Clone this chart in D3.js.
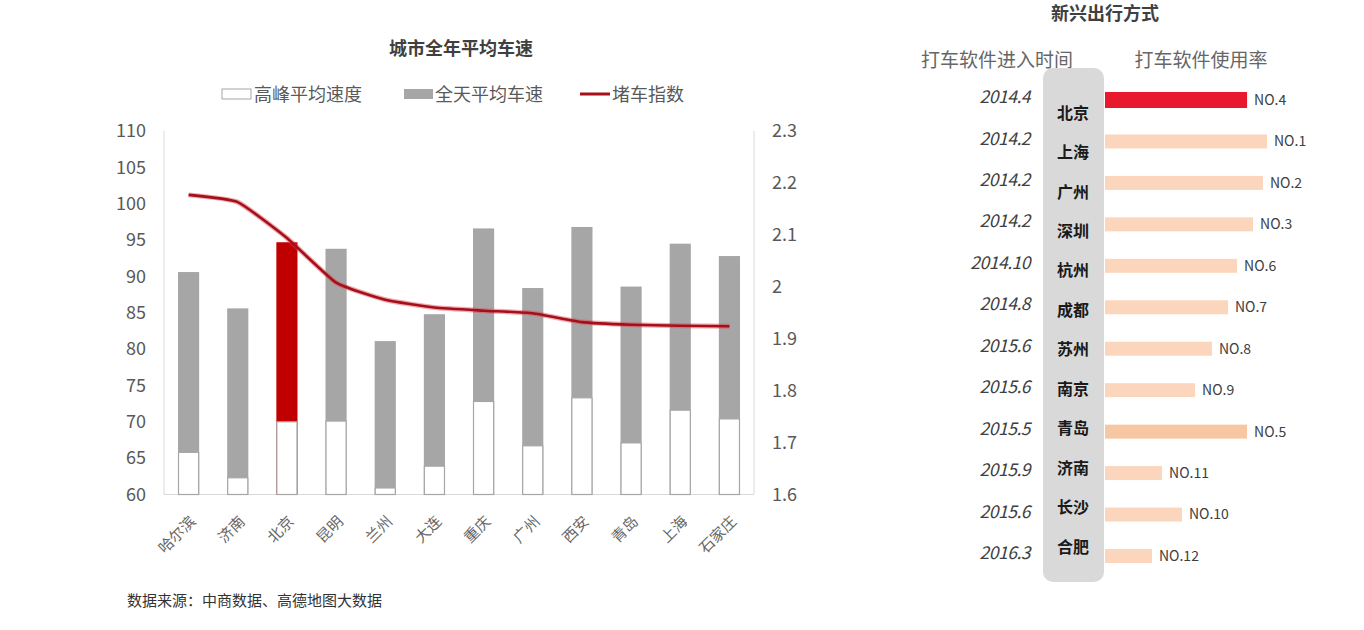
<!DOCTYPE html>
<html>
<head>
<meta charset="utf-8">
<script src="https://cdn.jsdelivr.net/npm/d3@7"></script>
<style>
  body { margin: 0; background: #fff; }
  svg { display: block; }
  text { font-family: "Noto Sans CJK SC", "Noto Sans", sans-serif; }
</style>
</head>
<body>
<div id="chart"></div>
<script>
/* CONSTANTS AND GLOBALS */
const width = 1364, height = 630;

/* DATA */
// left chart: 城市全年平均车速
const cities = ["哈尔滨", "济南", "北京", "昆明", "兰州", "大连", "重庆", "广州", "西安", "青岛", "上海", "石家庄"];
const peakSpeed = [65.8, 62.3, 70.0, 70.1, 60.9, 63.9, 72.8, 66.7, 73.3, 67.1, 71.6, 70.4];
const allDaySpeed = [90.6, 85.6, 94.7, 93.8, 81.1, 84.8, 96.6, 88.4, 96.8, 88.6, 94.5, 92.8];
const jamIndex = [2.177, 2.163, 2.094, 2.008, 1.975, 1.960, 1.954, 1.949, 1.932, 1.927, 1.925, 1.924];
const speedTicks = [60, 65, 70, 75, 80, 85, 90, 95, 100, 105, 110];
const jamTicks = [1.6, 1.7, 1.8, 1.9, 2, 2.1, 2.2, 2.3];
const highlightCity = "北京";

// right chart: 新兴出行方式
const appCities = ["北京", "上海", "广州", "深圳", "杭州", "成都", "苏州", "南京", "青岛", "济南", "长沙", "合肥"];
const entryTime = ["2014.4", "2014.2", "2014.2", "2014.2", "2014.10", "2014.8", "2015.6", "2015.6", "2015.5", "2015.9", "2015.6", "2016.3"];
const usageIndex = [87.7, 100, 97.5, 91.4, 81.5, 75.9, 66.0, 55.6, 87.7, 35.2, 47.5, 29.0];
const usageRank = ["NO.4", "NO.1", "NO.2", "NO.3", "NO.6", "NO.7", "NO.8", "NO.9", "NO.5", "NO.11", "NO.10", "NO.12"];

const svg = d3.select("#chart").append("svg")
  .attr("width", width)
  .attr("height", height);

/* LEFT CHART */
const plot = { left: 164, right: 754, top: 131, bottom: 494.5 };

const x = d3.scaleBand()
  .domain(cities)
  .range([plot.left, plot.right])
  .paddingInner(0.57)
  .paddingOuter(0.285);

const ySpeed = d3.scaleLinear().domain([60, 110]).range([plot.bottom, plot.top]);
const yJam = d3.scaleLinear().domain([1.6, 2.3]).range([plot.bottom, plot.top]);

svg.append("text")
  .attr("x", 461).attr("y", 55)
  .attr("text-anchor", "middle")
  .attr("font-size", 18).attr("font-weight", "bold")
  .attr("fill", "#404040")
  .text("城市全年平均车速");

// legend
const legend = svg.append("g").attr("font-size", 18).attr("fill", "#595959");
legend.append("rect").attr("x", 222).attr("y", 89).attr("width", 29).attr("height", 10)
  .attr("fill", "#fff").attr("stroke", "#a6a6a6");
legend.append("text").attr("x", 254).attr("y", 101).text("高峰平均速度");
legend.append("rect").attr("x", 404).attr("y", 89).attr("width", 29).attr("height", 10)
  .attr("fill", "#a6a6a6");
legend.append("text").attr("x", 435).attr("y", 101).text("全天平均车速");
legend.append("line").attr("x1", 580).attr("x2", 610).attr("y1", 94).attr("y2", 94)
  .attr("stroke", "#a50f1a").attr("stroke-width", 3);
legend.append("text").attr("x", 612).attr("y", 101).text("堵车指数");

// axes lines
const axisColor = "#d9d9d9";
svg.append("line").attr("x1", plot.left).attr("x2", plot.left)
  .attr("y1", plot.top).attr("y2", plot.bottom).attr("stroke", axisColor);
svg.append("line").attr("x1", plot.right).attr("x2", plot.right)
  .attr("y1", plot.top).attr("y2", plot.bottom).attr("stroke", axisColor);
svg.append("line").attr("x1", plot.left).attr("x2", plot.right)
  .attr("y1", plot.bottom).attr("y2", plot.bottom).attr("stroke", axisColor);

const yLeft = svg.append("g")
  .attr("transform", `translate(${plot.left},0)`)
  .call(d3.axisLeft(ySpeed).tickValues(speedTicks).tickSize(0).tickPadding(18));
const yRight = svg.append("g")
  .attr("transform", `translate(${plot.right},0)`)
  .call(d3.axisRight(yJam).tickValues(jamTicks).tickSize(0).tickPadding(18).tickFormat(d3.format("")));
[yLeft, yRight].forEach(g => {
  g.select(".domain").remove();
  g.selectAll("text").attr("font-size", 18).attr("fill", "#595959")
    .attr("font-family", "'Noto Sans', sans-serif");
});

svg.selectAll("text.cat")
  .data(cities)
  .join("text")
  .attr("class", "cat")
  .attr("text-anchor", "end")
  .attr("font-size", 15)
  .attr("fill", "#666")
  .attr("transform", d => `translate(${x(d) + x.bandwidth() / 2 + 8},${plot.bottom + 28}) rotate(-45)`)
  .text(d => d);

// full-day bars
svg.selectAll("rect.allday")
  .data(cities)
  .join("rect")
  .attr("class", "allday")
  .attr("x", d => x(d))
  .attr("width", x.bandwidth())
  .attr("y", (d, i) => ySpeed(allDaySpeed[i]))
  .attr("height", (d, i) => ySpeed(60) - ySpeed(allDaySpeed[i]))
  .attr("fill", d => d === highlightCity ? "#c00000" : "#a6a6a6");

// peak bars (white with outline)
svg.selectAll("rect.peak")
  .data(cities)
  .join("rect")
  .attr("class", "peak")
  .attr("x", d => x(d) + 0.5)
  .attr("width", x.bandwidth() - 1)
  .attr("y", (d, i) => ySpeed(peakSpeed[i]))
  .attr("height", (d, i) => ySpeed(60) - ySpeed(peakSpeed[i]))
  .attr("fill", "#fff")
  .attr("stroke", "#a6a6a6")
  .attr("stroke-width", 1.2);

// jam index line
const line = d3.line()
  .x((d, i) => x(cities[i]) + x.bandwidth() / 2)
  .y(d => yJam(d))
  .curve(d3.curveCardinal.tension(0.55));

svg.append("path")
  .datum(jamIndex)
  .attr("d", line)
  .attr("fill", "none")
  .attr("stroke", "#e0404c")
  .attr("stroke-opacity", 0.45)
  .attr("stroke-width", 5)
  .attr("stroke-linejoin", "round");
svg.append("path")
  .datum(jamIndex)
  .attr("d", line)
  .attr("fill", "none")
  .attr("stroke", "#a50f1a")
  .attr("stroke-width", 2.6)
  .attr("stroke-linejoin", "round");

svg.append("text")
  .attr("x", 127).attr("y", 606)
  .attr("font-size", 15)
  .attr("fill", "#333")
  .text("数据来源：中商数据、高德地图大数据");

/* RIGHT CHART */
svg.append("text")
  .attr("x", 1105).attr("y", 20)
  .attr("text-anchor", "middle")
  .attr("font-size", 18).attr("font-weight", "bold")
  .attr("fill", "#404040")
  .text("新兴出行方式");

svg.append("text")
  .attr("x", 997).attr("y", 67)
  .attr("text-anchor", "middle")
  .attr("font-size", 19).attr("fill", "#666")
  .text("打车软件进入时间");
svg.append("text")
  .attr("x", 1201).attr("y", 67)
  .attr("text-anchor", "middle")
  .attr("font-size", 19).attr("fill", "#666")
  .text("打车软件使用率");

svg.append("rect")
  .attr("x", 1043).attr("y", 68)
  .attr("width", 61).attr("height", 514)
  .attr("rx", 10)
  .attr("fill", "#d9d9d9");

const rowY = d3.scalePoint().domain(appCities).range([100, 556]);
const nameY = d3.scalePoint().domain(appCities).range([113, 547]);
const xUse = d3.scaleLinear().domain([0, 100]).range([1105, 1267]);

svg.selectAll("text.date")
  .data(appCities)
  .join("text")
  .attr("class", "date")
  .attr("x", 1030)
  .attr("y", d => rowY(d) - 3)
  .attr("dy", "0.35em")
  .attr("text-anchor", "end")
  .attr("font-size", 17.5)
  .attr("font-style", "italic")
  .attr("fill", "#404040")
  .attr("font-family", "'Open Sans', sans-serif")
  .attr("letter-spacing", "-0.5")
  .text((d, i) => entryTime[i]);

svg.selectAll("text.city")
  .data(appCities)
  .join("text")
  .attr("class", "city")
  .attr("x", 1073)
  .attr("y", d => nameY(d))
  .attr("dy", "0.35em")
  .attr("text-anchor", "middle")
  .attr("font-size", 16)
  .attr("font-weight", "bold")
  .attr("fill", "#1a1a1a")
  .text(d => d);

svg.selectAll("rect.use")
  .data(appCities)
  .join("rect")
  .attr("class", "use")
  .attr("x", xUse(0))
  .attr("y", d => rowY(d) - (d === "北京" ? 8 : 7))
  .attr("height", d => d === "北京" ? 16 : 14)
  .attr("width", (d, i) => xUse(usageIndex[i]) - xUse(0))
  .attr("fill", d => d === "北京" ? "#e8192c" : d === "青岛" ? "#f7c6a2" : "#fbd6bd");

svg.selectAll("text.rank")
  .data(appCities)
  .join("text")
  .attr("class", "rank")
  .attr("x", (d, i) => xUse(usageIndex[i]) + 7)
  .attr("y", d => rowY(d))
  .attr("dy", "0.35em")
  .attr("font-size", 14)
  .attr("fill", "#404040")
  .attr("font-family", "'Noto Sans', sans-serif")
  .text((d, i) => usageRank[i]);
</script>
</body>
</html>
